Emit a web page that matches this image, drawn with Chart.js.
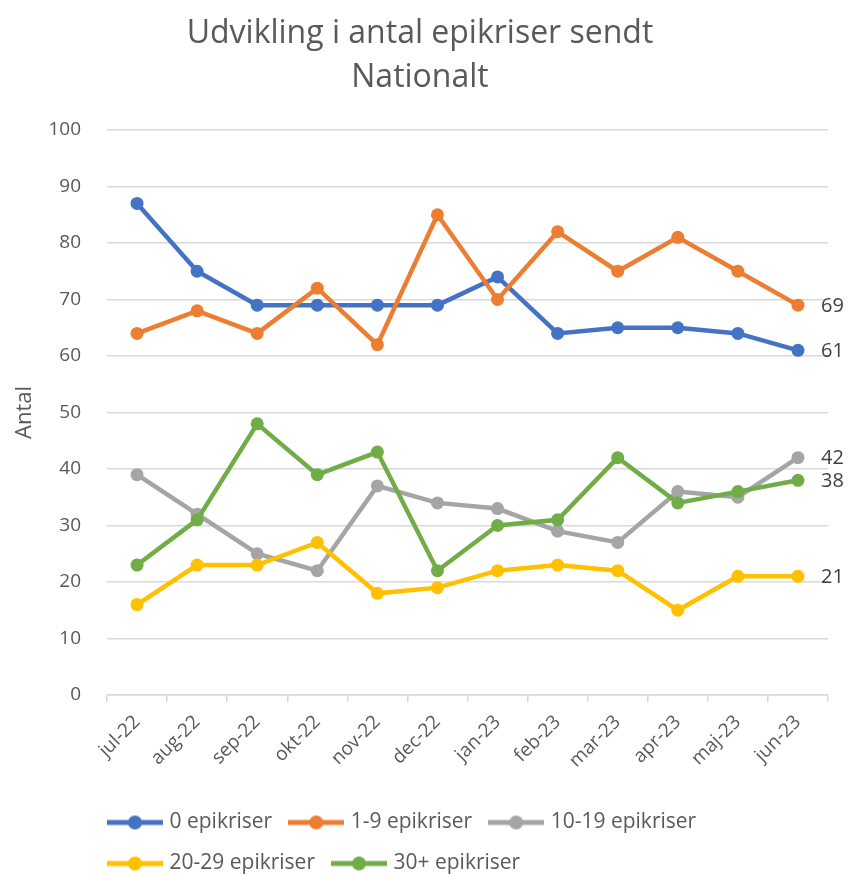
<!DOCTYPE html>
<html>
<head>
<meta charset="utf-8">
<script src="https://cdn.jsdelivr.net/npm/chart.js@4"></script>
<style>
  html, body { margin: 0; padding: 0; background: #fff; }
  #wrap { width: 848px; height: 875px; }
</style>
</head>
<body>
<div id="wrap"><canvas id="myChart"></canvas></div>
<script>
// Data
const months = ["jul-22", "aug-22", "sep-22", "okt-22", "nov-22", "dec-22",
                "jan-23", "feb-23", "mar-23", "apr-23", "maj-23", "jun-23"];
const seriesNames = ["0 epikriser", "1-9 epikriser", "10-19 epikriser", "20-29 epikriser", "30+ epikriser"];
const epi0      = [87, 75, 69, 69, 69, 69, 74, 64, 65, 65, 64, 61];
const epi1to9   = [64, 68, 64, 72, 62, 85, 70, 82, 75, 81, 75, 69];
const epi10to19 = [39, 32, 25, 22, 37, 34, 33, 29, 27, 36, 35, 42];
const epi20to29 = [16, 23, 23, 27, 18, 19, 22, 23, 22, 15, 21, 21];
const epi30plus = [23, 31, 48, 39, 43, 22, 30, 31, 42, 34, 36, 38];
const yTicks = [0, 100, 10]; // min, max, step

const lineColors = ["#4472C4", "#ED7D31", "#A5A5A5", "#FFC000", "#70AD47"];
const seriesData = [epi0, epi1to9, epi10to19, epi20to29, epi30plus];

const FONT = '"Open Sans", "Liberation Sans", sans-serif';
const TEXT = '#595959';

// legend icon: line with a dot in the middle
function legendIcon(color) {
  const c = document.createElement('canvas');
  c.width = 56; c.height = 16;
  const g = c.getContext('2d');
  g.strokeStyle = color;
  g.lineWidth = 5;
  g.beginPath(); g.moveTo(0, 8); g.lineTo(56, 8); g.stroke();
  g.fillStyle = color;
  g.beginPath(); g.arc(28, 8, 7, 0, Math.PI * 2); g.fill();
  return c;
}

// value label on the last point of each line
const lastLabel = {
  id: 'lastLabel',
  afterDatasetsDraw(chart) {
    const ctx = chart.ctx;
    ctx.save();
    ctx.font = '20px ' + FONT;
    ctx.fillStyle = '#404040';
    ctx.textAlign = 'left';
    ctx.textBaseline = 'middle';
    chart.data.datasets.forEach((ds, i) => {
      const meta = chart.getDatasetMeta(i);
      const last = meta.data[meta.data.length - 1];
      ctx.fillText(ds.data[ds.data.length - 1], last.x + 23, last.y + 1);
    });
    ctx.restore();
  }
};

// Excel starts the legend right at the plot's left edge
const legendShift = {
  id: 'legendShift',
  afterLayout(chart) {
    const shift = chart.options.plugins.legend.labels.padding - 4;
    chart.legend.left -= shift;
    chart.legend.right -= shift;
  }
};

const ctx = document.getElementById('myChart');

new Chart(ctx, {
  type: 'line',
  data: {
    labels: months,
    datasets: seriesNames.map((name, i) => ({
      label: name,
      data: seriesData[i],
      borderColor: lineColors[i],
      backgroundColor: lineColors[i],
      pointBackgroundColor: lineColors[i],
      pointBorderColor: lineColors[i],
      borderWidth: 4.5,
      pointRadius: 6.5,
      pointBorderWidth: 0,
      tension: 0,
      order: seriesNames.length - i   // later series drawn on top, like Excel
    }))
  },
  options: {
    responsive: true,
    maintainAspectRatio: false,
    animation: false,
    layout: { padding: { left: 12, right: 20, top: 0, bottom: -9 } },
    plugins: {
      title: {
        display: true,
        text: ['Udvikling i antal epikriser sendt', 'Nationalt'],
        color: TEXT,
        font: { size: 32, family: FONT, weight: 'normal', lineHeight: 1.375 },
        padding: { top: 12, bottom: 30 }
      },
      legend: {
        display: true,
        position: 'bottom',
        align: 'start',
        fullSize: false,
        labels: {
          color: TEXT,
          font: { size: 21, family: FONT },
          usePointStyle: true,
          pointStyleWidth: 48,
          padding: 20,
          sort: (a, b) => a.datasetIndex - b.datasetIndex,
          generateLabels(chart) {
            const items = Chart.defaults.plugins.legend.labels.generateLabels(chart);
            items.forEach(it => { it.pointStyle = legendIcon(lineColors[it.datasetIndex]); });
            return items;
          }
        }
      },
      tooltip: { enabled: false }
    },
    scales: {
      x: {
        offset: true,
        afterFit(scale) { scale.height = 97; },
        grid: { offset: true, drawOnChartArea: false, drawTicks: true, tickLength: 7, color: '#D9D9D9', lineWidth: 1.5 },
        border: { color: '#D9D9D9', width: 1.5 },
        ticks: {
          color: TEXT,
          font: { size: 19, family: FONT },
          minRotation: 45,
          maxRotation: 45,
          autoSkip: false,
          padding: 9
        }
      },
      y: {
        min: yTicks[0],
        max: yTicks[1],
        afterFit(scale) { scale.width = 95; },
        grid: { color: '#D9D9D9', lineWidth: 1.5, drawTicks: false },
        border: { display: false },
        ticks: {
          stepSize: yTicks[2],
          color: TEXT,
          font: { size: 19, family: FONT },
          padding: 26
        },
        title: {
          display: true,
          text: 'Antal',
          color: TEXT,
          font: { size: 22, family: FONT },
          padding: { top: 0, bottom: 4 }
        }
      }
    }
  },
  plugins: [lastLabel, legendShift]
});
</script>
</body>
</html>
